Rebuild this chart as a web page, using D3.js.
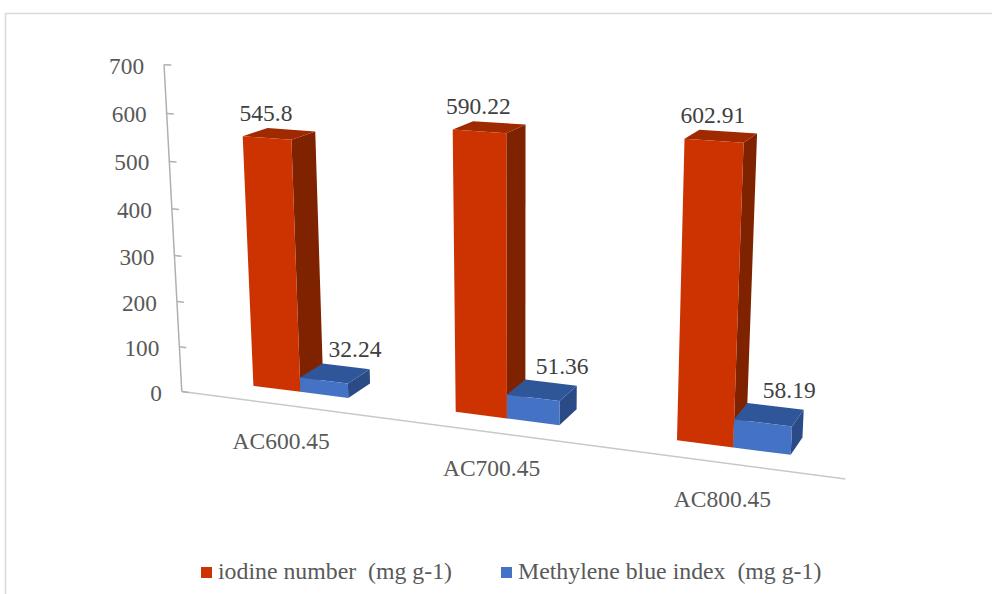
<!DOCTYPE html>
<html>
<head>
<meta charset="utf-8">
<script src="https://cdn.jsdelivr.net/npm/d3@7"></script>
<style>
  body { margin: 0; background: #fff; }
</style>
</head>
<body>
<svg id="chart" width="992" height="594"></svg>
<script>
// ---- data ----
const categories = ["AC600.45", "AC700.45", "AC800.45"];
const seriesNames = ["iodine number  (mg g-1)", "Methylene blue index  (mg g-1)"];
const iodineNumber = [545.8, 590.22, 602.91];
const methyleneBlue = [32.24, 51.36, 58.19];
const yTicks = [0, 100, 200, 300, 400, 500, 600, 700];

// ---- 3D scene setup ----
// world: x along the category axis (0..1), y = value share of the axis (0..1), z = depth (bar depth = 1)
const camera = [
  [553.8316, -25.90222, 30.80747, 181.7985],
  [25.23003, -330.1397, -4.702857, 391.5581],
  [-0.1299553, -0.04965249, 0.02520042, 1]
];
function project(x, y, z) {
  const r = camera.map(row => row[0] * x + row[1] * y + row[2] * z + row[3]);
  return [r[0] / r[2], r[1] / r[2]];
}

const gapDepth = 0.85;       // distance from floor edge to bar front, in bar depths
const barDepth = 1;

const x0 = d3.scaleBand().domain(categories).range([0, 1]).paddingInner(0.52).paddingOuter(0.26);
const x1 = d3.scaleBand().domain([0, 1]).range([0, x0.bandwidth()]);
const y = d3.scaleLinear().domain([0, 700]).range([0, 1]);

const palette = [
  { front: "#cc3300", top: "#a02a00", side: "#7e2200" },
  { front: "#4472c4", top: "#30569a", side: "#2a4b86" }
];

const svg = d3.select("#chart");

function label(sel, size) {
  return sel.append("text").attr("font-family", "Liberation Serif").attr("font-size", size || 23.5);
}

// chart area frame
svg.append("path")
  .attr("d", "M5.5,594 L5.5,13.5 L992,13.5")
  .attr("fill", "none").attr("stroke", "#d9d9d9").attr("stroke-width", 1.5);

const line = d3.line();

// floor edge (category axis)
svg.append("path")
  .attr("d", line([project(0, 0, 0), project(1, 0, 0)]))
  .attr("stroke", "#c8c8c8").attr("stroke-width", 1.5).attr("fill", "none");

// value axis
svg.append("path")
  .attr("d", line([project(0, 0, 0), project(0, 1, 0)]))
  .attr("stroke", "#b0b0b0").attr("stroke-width", 1.5).attr("fill", "none");

const tickG = svg.append("g");
yTicks.forEach(t => {
  const a = project(0, y(t), 0), b = project(0.012, y(t), 0);
  tickG.append("path").attr("d", line([a, b]))
    .attr("stroke", "#b0b0b0").attr("stroke-width", 1.5).attr("fill", "none");
  label(tickG, 23.3)
    .attr("x", a[0] - 20).attr("y", a[1] + 9)
    .attr("text-anchor", "end").attr("fill", "#595959")
    .text(t);
});

// bars
const series = [iodineNumber, methyleneBlue];
const barG = svg.append("g");
const labelG = svg.append("g");

categories.forEach((cat, i) => {
  series.forEach((vals, s) => {
    const xa = x0(cat) + x1(s), xb = xa + x1.bandwidth();
    const h = y(vals[i]);
    const zf = gapDepth, zb = gapDepth + barDepth;
    const c = palette[s];
    const side = [project(xb, 0, zf), project(xb, 0, zb), project(xb, h, zb), project(xb, h, zf)];
    const top = [project(xa, h, zf), project(xb, h, zf), project(xb, h, zb), project(xa, h, zb)];
    const front = [project(xa, 0, zf), project(xb, 0, zf), project(xb, h, zf), project(xa, h, zf)];
    barG.append("path").attr("d", line(side) + "Z").attr("fill", c.side);
    barG.append("path").attr("d", line(top) + "Z").attr("fill", c.top);
    barG.append("path").attr("d", line(front) + "Z").attr("fill", c.front);

    let p, dx, dy;
    if (s === 0) { p = project((xa + xb) / 2, h, zf); dx = -1; dy = -17.5; }
    else { p = project((xa + xb) / 2, h, zf + barDepth / 2); dx = 20; dy = -16; }
    label(labelG)
      .attr("x", p[0] + dx).attr("y", p[1] + dy)
      .attr("text-anchor", "middle").attr("fill", "#404040")
      .text(vals[i]);
  });
  const q = project(x0(cat) + x0.bandwidth() / 2, 0, 0);
  label(svg)
    .attr("x", q[0] + 1).attr("y", q[1] + 44)
    .attr("text-anchor", "middle").attr("fill", "#595959")
    .text(cat);
});

// legend
const legend = svg.append("g").attr("transform", "translate(201,579)");
const legendX = [0, 300];
seriesNames.forEach((name, s) => {
  const g = legend.append("g").attr("transform", `translate(${legendX[s]},0)`);
  g.append("rect").attr("x", 0).attr("y", -12).attr("width", 11).attr("height", 11).attr("fill", palette[s].front);
  label(g, 23.8).attr("x", 17).attr("y", 0)
    .attr("fill", "#595959")
    .attr("xml:space", "preserve").text(name);
});
</script>
</body>
</html>
